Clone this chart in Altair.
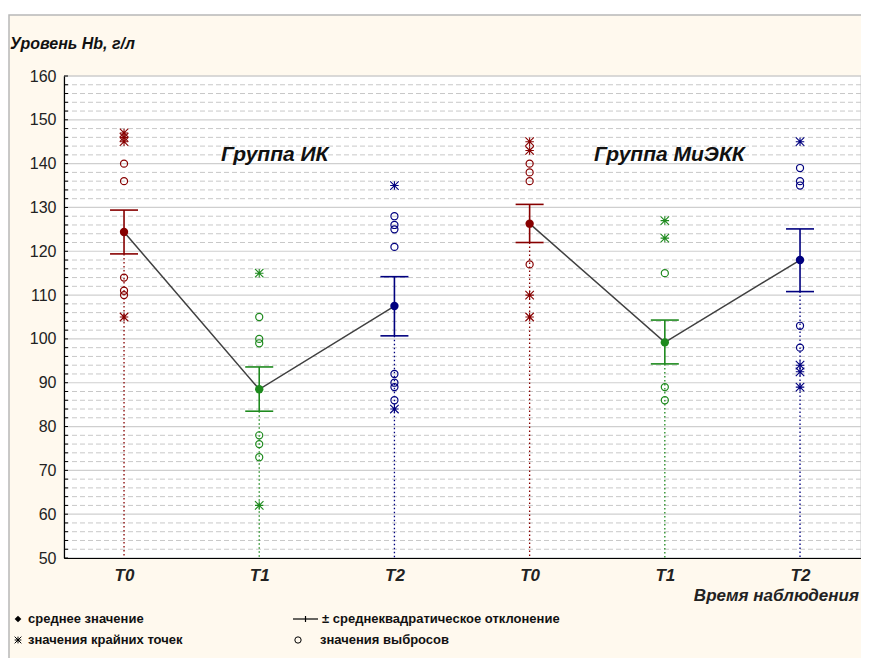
import altair as alt
import pandas as pd

# ---------------- data ----------------
groups = ["ИК", "ИК", "ИК", "МиЭКК", "МиЭКК", "МиЭКК"]
times = ["T0", "T1", "T2", "T0", "T1", "T2"]
means = [124.4, 88.5, 107.5, 126.3, 99.2, 118.0]
sd_low = [119.4, 83.5, 100.7, 122.0, 94.3, 110.8]
sd_high = [129.4, 93.6, 114.2, 130.7, 104.3, 125.1]

extremes = [
    [147, 146, 145, 105],
    [115, 62],
    [135, 84],
    [145, 143, 110, 105],
    [127, 123],
    [145, 94, 92.5, 89],
]
outliers = [
    [140, 136, 114, 111, 110],
    [105, 100, 99, 78, 76, 73],
    [128, 126, 125, 121, 92, 90, 89, 86],
    [140, 138, 136, 117],
    [115, 89, 86],
    [139, 136, 135, 103, 98],
]

time_domain = ["T0", "T1", "T2"]
time_colors = ["#870000", "#1E8A1E", "#00007F"]
y_major = list(range(50, 161, 10))
y_minor = [v for v in range(52, 160, 2) if v % 10 != 0]
y_ticks_all = list(range(50, 161, 2))

idx = list(range(len(times)))

df_means = pd.DataFrame({
    "idx": idx, "group": groups, "time": times,
    "mean": means, "lo": sd_low, "hi": sd_high,
})

pts = []
for i, t, ex, ou in zip(idx, times, extremes, outliers):
    for v in ex:
        pts.append({"idx": i, "time": t, "value": v, "kind": "star"})
    for v in ou:
        pts.append({"idx": i, "time": t, "value": v, "kind": "circle"})
df_pts = pd.DataFrame(pts)

caps = []
for i, t, lo, hi in zip(idx, times, sd_low, sd_high):
    caps.append({"idx": i, "time": t, "value": lo})
    caps.append({"idx": i, "time": t, "value": hi})
df_caps = pd.DataFrame(caps)

one = pd.DataFrame({"a": [0]})

W, H = 797, 482
SANS = "Liberation Sans, Arial, sans-serif"
NARROW = "Liberation Sans Narrow, Arial Narrow, Liberation Sans, Arial, sans-serif"
STAR = "M0,-1L0,1M-1,-1L1,1M-1,1L1,-1M-1,0L1,0"

label_js = "[" + ",".join(f"'{t}'" for t in times) + "]"

xscale = alt.Scale(domain=[-0.444, 5.451], nice=False, zero=False)
yscale = alt.Scale(domain=[50, 160], nice=False, zero=False)
cscale = alt.Scale(domain=time_domain, range=time_colors)

xaxis = alt.Axis(
    title=None, ticks=False, grid=False, values=idx, domainColor="#000000", domainWidth=1.2,
    labelExpr=f"{label_js}[datum.value]", labelFont=NARROW, labelFontSize=17,
    labelFontWeight="bold", labelFontStyle="italic", labelColor="#222222",
    labelPadding=9, labelAngle=0, labelFlush=False, labelOverlap=False, zindex=2,
)
yaxis = alt.Axis(
    title=None, ticks=False, grid=False, values=y_major, domainColor="#000000",
    domainWidth=1.2, labelFont=SANS, labelFontSize=16, labelColor="#222222",
    labelPadding=8, labelFlush=False, zindex=2,
)

X = alt.X("idx:Q", scale=xscale, axis=xaxis)
C = alt.Color("time:N", scale=cscale, legend=None)

# background frame (cream) and white plot area
frame = alt.Chart(one).mark_rect(fill="#FFF9EE", stroke="#B8B8B8", strokeWidth=1.5).encode(
    x=alt.value(-55), x2=alt.value(W + 20), y=alt.value(-61), y2=alt.value(H + 120)
)
plotbg = alt.Chart(one).mark_rect(fill="#FFFFFF", stroke="#C8C8C8", strokeWidth=1).encode(
    x=alt.value(0), x2=alt.value(W), y=alt.value(0), y2=alt.value(H)
)

grid_minor = alt.Chart(pd.DataFrame({"v": y_minor})).mark_rule(
    color="#C8C8C8", strokeDash=[5, 3], strokeWidth=1
).encode(y=alt.Y("v:Q", scale=yscale, axis=yaxis), x=alt.value(0), x2=alt.value(W))

grid_major = alt.Chart(pd.DataFrame({"v": y_major})).mark_rule(
    color="#CFCFCF", strokeWidth=1.2
).encode(y=alt.Y("v:Q", scale=yscale), x=alt.value(0), x2=alt.value(W))

ytick_marks = alt.Chart(pd.DataFrame({"v": y_ticks_all})).mark_rule(
    color="#000000", strokeWidth=1
).encode(y=alt.Y("v:Q", scale=yscale), x=alt.value(0), x2=alt.value(4))

whisk = alt.Chart(df_means).mark_rule(strokeDash=[1.5, 2.5], strokeWidth=1.3).encode(
    x=X, y=alt.Y("lo:Q", scale=yscale), y2=alt.value(H), color=C
)

mean_line = alt.Chart(df_means).mark_line(color="#404040", strokeWidth=1.5).encode(
    x=X, y=alt.Y("mean:Q", scale=yscale), detail="group:N"
)

sd_rule = alt.Chart(df_means).mark_rule(strokeWidth=1.6).encode(
    x=X, y=alt.Y("lo:Q", scale=yscale), y2="hi:Q", color=C
)

sd_caps = alt.Chart(df_caps).mark_rule(strokeWidth=1.6, xOffset=-14, x2Offset=14).encode(
    x=X, x2="idx:Q", y=alt.Y("value:Q", scale=yscale), color=C
)

circles = alt.Chart(df_pts).transform_filter(alt.datum.kind == "circle").mark_point(
    shape="circle", filled=False, size=50, strokeWidth=1.2, opacity=1
).encode(x=X, y=alt.Y("value:Q", scale=yscale), color=C)

stars = alt.Chart(df_pts).transform_filter(alt.datum.kind == "star").mark_point(
    shape=STAR, filled=False, size=72, strokeWidth=1.1, opacity=1
).encode(x=X, y=alt.Y("value:Q", scale=yscale), color=C)

mean_pts = alt.Chart(df_means).mark_point(shape="circle", filled=True, size=70, opacity=1).encode(
    x=X, y=alt.Y("mean:Q", scale=yscale), color=C
)


def txt(s, x, y, size, weight="bold", style="italic", font=SANS, align="left", color="#111111"):
    return alt.Chart(one).mark_text(
        text=s, align=align, baseline="middle", font=font, fontSize=size,
        fontWeight=weight, fontStyle=style, color=color,
    ).encode(x=alt.value(x), y=alt.value(y))


ytitle = txt("Уровень Hb, г/л", -54, -32, 16)
g1 = txt("Группа ИК", 157, 79, 21)
g2 = txt("Группа МиЭКК", 530, 79, 21)
xtitle = txt("Время наблюдения", 795, 520, 17, align="right", color="#222222")

LEG = 13
leg1 = txt("среднее значение", -36, 543, LEG, style="normal", font=NARROW)
leg2 = txt("± среднеквадратическое отклонение", 258, 543, LEG, style="normal", font=NARROW)
leg3 = txt("значения крайних точек", -36, 564, LEG, style="normal", font=NARROW)
leg4 = txt("значения выбросов", 256, 564, LEG, style="normal", font=NARROW)

leg_diamond = alt.Chart(one).mark_point(shape="diamond", filled=True, color="#000000", size=45, opacity=1).encode(
    x=alt.value(-46), y=alt.value(543)
)
leg_star = alt.Chart(one).mark_point(shape=STAR, filled=False, color="#000000", size=45, strokeWidth=1, opacity=1).encode(
    x=alt.value(-46), y=alt.value(564)
)
leg_circle = alt.Chart(one).mark_point(shape="circle", filled=False, color="#000000", size=40, strokeWidth=1, opacity=1).encode(
    x=alt.value(234), y=alt.value(564)
)
leg_sd_h = alt.Chart(one).mark_rule(color="#000000", strokeWidth=1.2).encode(
    x=alt.value(229), x2=alt.value(254), y=alt.value(543)
)
leg_sd_v = alt.Chart(one).mark_rule(color="#000000", strokeWidth=1.2).encode(
    x=alt.value(241.5), y=alt.value(540), y2=alt.value(546)
)

chart = alt.layer(
    frame, plotbg, grid_minor, grid_major, ytick_marks, whisk, mean_line, sd_rule, sd_caps,
    circles, stars, mean_pts, ytitle, g1, g2, xtitle,
    leg1, leg2, leg3, leg4, leg_diamond, leg_star, leg_circle, leg_sd_h, leg_sd_v,
).properties(
    width=W, height=H,
    autosize=alt.AutoSizeParams(type="none"),
    padding={"left": 56, "top": 68, "right": 0, "bottom": 100},
    background="#FFFFFF",
).configure_view(stroke=None)

chart.save("out.html", embed_options={"renderer": "svg", "actions": False})
